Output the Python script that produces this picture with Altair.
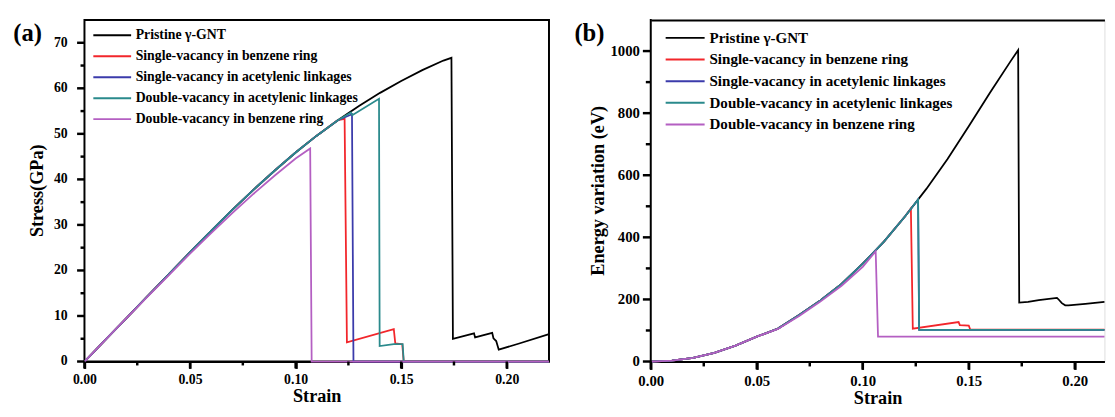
import altair as alt
import pandas as pd

SERIES = [
    "Pristine γ-GNT",
    "Single-vacancy in benzene ring",
    "Single-vacancy in acetylenic linkages",
    "Double-vacancy in acetylenic linkages",
    "Double-vacancy in benzene ring",
]
COLORS = ["#000000", "#f2262b", "#3b3bab", "#2a8a8c", "#b45fc2"]

# ---------------- (a) stress vs strain ----------------
base_s = [0, 0.01, 0.02, 0.03, 0.04, 0.05, 0.06, 0.07, 0.08, 0.09, 0.10, 0.11, 0.12]
base_a = [0, 4.8, 9.6, 14.4, 19.2, 24.0, 28.7, 33.3, 37.7, 41.9, 45.9, 49.6, 53.0]

a_pristine_s = base_s + [0.13, 0.14, 0.15, 0.16, 0.17, 0.1738, 0.1745, 0.1845, 0.1850, 0.1931, 0.1937, 0.1950, 0.1962, 0.2055, 0.22]
a_pristine_v = base_a + [56.1, 59.0, 61.6, 64.0, 66.1, 66.7, 5.0, 6.2, 5.3, 6.3, 5.1, 4.5, 2.6, 3.9, 6.0]

a_sv_benz_s = base_s + [0.1232, 0.1243, 0.1465, 0.1472, 0.1505, 0.1512, 0.22]
a_sv_benz_v = base_a + [53.3, 4.2, 7.1, 4.0, 3.8, 0, 0]

a_sv_acet_s = base_s + [0.1267, 0.1274, 0.22]
a_sv_acet_v = base_a + [54.3, 0, 0]

a_dv_acet_s = base_s + [0.1262, 0.1268, 0.1395, 0.1398, 0.1465, 0.1507, 0.1512, 0.22]
a_dv_acet_v = base_a + [54.7, 54.1, 57.7, 3.4, 3.8, 3.8, 0, 0]

a_dv_benz_s = [0, 0.01, 0.02, 0.03, 0.04, 0.05, 0.06, 0.07, 0.08, 0.09, 0.10, 0.1069, 0.1076, 0.22]
a_dv_benz_v = [0, 4.8, 9.6, 14.3, 19.0, 23.7, 28.2, 32.6, 36.8, 40.8, 44.6, 46.8, 0, 0]

# ---------------- (b) energy vs strain (visible part ends at 0.214) ----------------
base_e = [0, 3, 12, 28, 51, 80, 106, 150, 197, 250, 315, 386, 468]

b_pristine_s = base_s + [0.13, 0.14, 0.15, 0.16, 0.17, 0.1733, 0.1738, 0.178, 0.183, 0.1916, 0.1925, 0.1939, 0.1955, 0.197, 0.205, 0.214]
b_pristine_v = base_e + [556, 652, 758, 866, 970, 1003, 190, 192, 198, 205, 199, 188, 181, 181, 186, 192]

b_sv_benz_s = base_s + [0.1227, 0.1236, 0.1452, 0.1458, 0.1500, 0.1507, 0.214]
b_sv_benz_v = base_e + [493, 106, 127, 117, 116, 103, 103]

b_sv_acet_s = base_s + [0.1261, 0.1266, 0.214]
b_sv_acet_v = base_e + [522, 102, 102]

b_dv_acet_s = base_s + [0.1261, 0.1266, 0.214]
b_dv_acet_v = base_e + [522, 102, 102]

b_dv_benz_s = [0, 0.01, 0.02, 0.03, 0.04, 0.05, 0.06, 0.07, 0.08, 0.09, 0.10, 0.1061, 0.1072, 0.214]
b_dv_benz_v = [0, 3, 12, 28, 51, 80, 105, 147, 193, 244, 305, 355, 80, 80]

X_MAJOR = [0, 0.05, 0.1, 0.15, 0.2]
X_MINOR = [0.025, 0.075, 0.125, 0.175]
A_MAJOR = [0, 10, 20, 30, 40, 50, 60, 70]
A_MINOR = [5, 15, 25, 35, 45, 55, 65]
B_MAJOR = [0, 200, 400, 600, 800, 1000]
B_MINOR = [100, 300, 500, 700, 900]

FONT = "Liberation Serif"
H = 347


def frame(pairs):
    rows = []
    for name, (xs, ys) in zip(SERIES, pairs):
        for i, (x, y) in enumerate(zip(xs, ys)):
            rows.append({"series": name, "strain": x, "value": y, "i": i})
    return pd.DataFrame(rows)


df_a = frame([(a_pristine_s, a_pristine_v), (a_sv_benz_s, a_sv_benz_v), (a_sv_acet_s, a_sv_acet_v),
              (a_dv_acet_s, a_dv_acet_v), (a_dv_benz_s, a_dv_benz_v)])
df_b = frame([(b_pristine_s, b_pristine_v), (b_sv_benz_s, b_sv_benz_v), (b_sv_acet_s, b_sv_acet_v),
              (b_dv_acet_s, b_dv_acet_v), (b_dv_benz_s, b_dv_benz_v)])
anchor = pd.DataFrame({"strain": [0.0], "value": [0.0]})


def x_axis(size, tick):
    return alt.Axis(
        values=X_MAJOR, format=".2f", grid=False, orient="bottom", ticks=True,
        tickSize=tick, tickColor="#000000", tickWidth=2.5,
        domainColor="#000000", domainWidth=2,
        labelFont=FONT, labelFontWeight="bold", labelFontSize=size, labelColor="black",
        labelPadding=4, labelOverlap=False, labelFlush=False,
        title="Strain", titleFont=FONT, titleFontWeight="bold",
        titleFontSize=18.5, titleColor="black", titlePadding=1,
    )


def legend(x, y, size, offset, path, rowpad):
    return alt.Legend(
        title=None, orient="none", legendX=x, legendY=y, padding=0,
        symbolType=path, symbolSize=144, symbolStrokeWidth=2,
        labelFont=FONT, labelFontWeight="bold", labelFontSize=size, labelColor="black",
        labelOffset=offset, labelLimit=500, rowPadding=rowpad,
    )


def x_ticks(values, scale, length):
    return alt.Chart(pd.DataFrame({"t": values})).mark_rule(
        color="#000000", strokeWidth=2.5, opacity=1, clip=False
    ).encode(x=alt.X("t:Q", scale=scale, axis=None), y=alt.value(H), y2=alt.value(H + length))


def y_ticks(values, scale, length):
    return alt.Chart(pd.DataFrame({"t": values})).mark_rule(
        color="#000000", strokeWidth=2.5, opacity=1, clip=False
    ).encode(y=alt.Y("t:Q", scale=scale, axis=None), x=alt.value(0), x2=alt.value(-length))


def y_labels(values, scale, size, right_edge):
    d = pd.DataFrame({"t": values, "s": [str(v) for v in values]})
    return alt.Chart(d).mark_text(
        font=FONT, fontWeight="bold", fontSize=size, align="right", baseline="middle", color="black"
    ).encode(y=alt.Y("t:Q", scale=scale, axis=None), x=alt.value(right_edge), text="s:N")


def y_title(text, xpos):
    return alt.Chart(pd.DataFrame({"t": [text]})).mark_text(
        font=FONT, fontWeight="bold", fontSize=18.5, align="center", baseline="middle",
        angle=270, color="black"
    ).encode(text="t:N", x=alt.value(xpos), y=alt.value(H / 2))


def panel_label(text, xpos):
    return alt.Chart(pd.DataFrame({"t": [text]})).mark_text(
        font=FONT, fontWeight="bold", fontSize=25, align="left", baseline="alphabetic", color="black"
    ).encode(text="t:N", x=alt.value(xpos), y=alt.value(21.5))


color_scale = alt.Scale(domain=SERIES, range=COLORS)

# ---------------- panel (a) ----------------
xs_a = alt.Scale(domain=[0, 0.22], nice=False, zero=False)
ys_a = alt.Scale(domain=[0, 75], nice=False)

lines_a = alt.Chart(df_a).mark_line(strokeWidth=1.8).encode(
    x=alt.X("strain:Q", scale=xs_a, axis=x_axis(14, 7)),
    y=alt.Y("value:Q", scale=ys_a, axis=None),
    color=alt.Color("series:N", scale=color_scale,
                    legend=legend(21.2, 8.5, 14, 16.8, "M-3.2,0H3.2", 7.3)),
    order="i:Q",
)

panel_a = alt.layer(
    lines_a,
    y_labels(A_MAJOR, ys_a, 14, -17),
    y_title("Stress(GPa)", -48),
    panel_label("(a)", -72.3),
    x_ticks(X_MAJOR, xs_a, 7), x_ticks(X_MINOR, xs_a, 4),
    y_ticks(A_MAJOR, ys_a, 7.5), y_ticks(A_MINOR, ys_a, 4),
).resolve_axis(x="independent").properties(
    width=472, height=H, view=alt.ViewBackground(stroke="black", strokeWidth=2)
)

# ---------------- panel (b) ----------------
xs_b = alt.Scale(domain=[0, 0.214], nice=False, zero=False)
ys_b = alt.Scale(domain=[0, 1100], nice=False)

lines_b = alt.Chart(df_b).mark_line(strokeWidth=1.8).encode(
    x=alt.X("strain:Q", scale=xs_b, axis=x_axis(15, 8)),
    y=alt.Y("value:Q", scale=ys_b, axis=None),
    color=alt.Color("series:N", scale=color_scale,
                    legend=legend(27.3, 10.5, 15.3, 17.1, "M-3.3,0H3.3", 6)),
    order="i:Q",
)
top_b = alt.Chart(anchor).mark_rule(opacity=0).encode(
    x=alt.X("strain:Q", scale=xs_b,
            axis=alt.Axis(orient="top", labels=False, ticks=False, domainColor="black",
                          domainWidth=2, title=None, grid=False)))
left_b = alt.Chart(anchor).mark_rule(color="black", strokeWidth=2).encode(
    x=alt.value(0), y=alt.value(-1), y2=alt.value(H + 1))

panel_b = alt.layer(
    lines_b, top_b, left_b,
    y_labels(B_MAJOR, ys_b, 15, -11),
    y_title("Energy variation (eV)", -53),
    panel_label("(b)", -77.6),
    x_ticks(X_MAJOR, xs_b, 8), x_ticks(X_MINOR, xs_b, 5),
    y_ticks(B_MAJOR, ys_b, 8), y_ticks(B_MINOR, ys_b, 5),
).resolve_axis(x="independent").properties(width=461, height=H)

chart = alt.hconcat(panel_a, panel_b, spacing=19.4).resolve_legend(color="independent").properties(
    padding={"left": 3.7, "top": 6, "right": -2, "bottom": -4}
).configure_view(strokeWidth=0).configure(background="white")

chart.save("out.html", embed_options={"renderer": "svg", "actions": False})
